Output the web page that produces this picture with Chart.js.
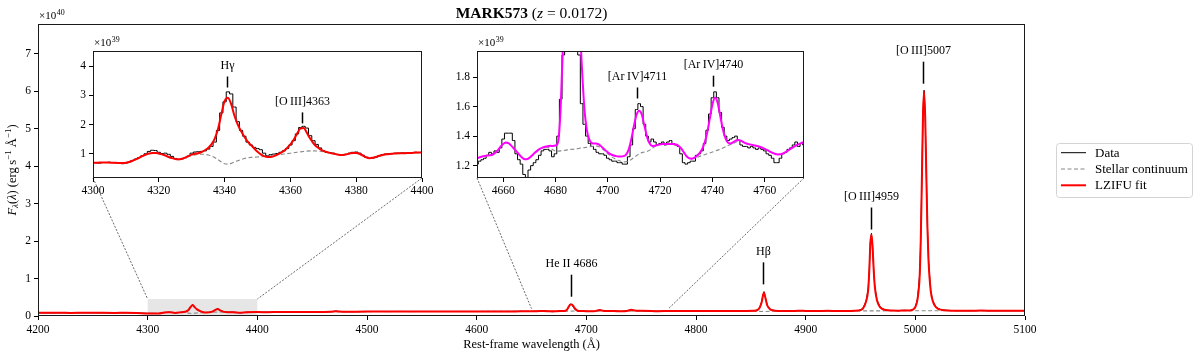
<!DOCTYPE html>
<html><head><meta charset="utf-8">
<script src="https://cdn.jsdelivr.net/npm/chart.js@4.4.1/dist/chart.umd.min.js"></script>
<style>
html,body{margin:0;padding:0;background:#fff;}
#wrap{position:relative;width:1200px;height:359px;overflow:hidden;background:#fff;}
canvas{position:absolute;}
</style></head><body>
<div id="wrap">
<canvas id="main" width="1200" height="359" style="left:0;top:0;width:1200px;height:359px"></canvas>
<canvas id="in1" width="378" height="159" style="left:60px;top:36px;width:378px;height:159px"></canvas>
<canvas id="in2" width="380" height="159" style="left:440px;top:36px;width:380px;height:159px"></canvas>
</div>
<script>
const FONT = "'Liberation Serif', 'DejaVu Serif', serif";

// ---------- ticks ----------
const mainXTicks = [4200,4300,4400,4500,4600,4700,4800,4900,5000,5100];
const mainYTicks = [0,1,2,3,4,5,6,7];
const in1XTicks = [4300,4320,4340,4360,4380,4400];
const in1YTicks = [1,2,3,4];
const in2XTicks = [4660,4680,4700,4720,4740,4760];
const in2YTicks = [1.2,1.4,1.6,1.8];

// ---------- line labels ----------
const mainAnnLabels = ['He II 4686','H\u03b2','[O\u2009III]4959','[O\u2009III]5007'];
const mainAnnWave = [4686,4861.4,4959.5,5007.3];
const mainAnnFlux = [0.515,0.845,2.31,6.205];
const in1AnnLabels = ['H\u03b3','[O\u2009III]4363'];
const in1AnnWave = [4340.7,4363.4];
const in1AnnFlux = [3.27,2.04];
const in2AnnLabels = ['[Ar\u2009IV]4711','[Ar\u2009IV]4740'];
const in2AnnWave = [4711.1,4740.2];
const in2AnnFlux = [1.655,1.735];

// ---------- main spectrum (1e40 erg/s/A) ----------
const mainWave = [
4200,4210,4220,4230,4240,4250,4260,4270,4280,4290,
4300,4305,4310,4315,4320,4325,4330,4334,4337,4339,
4341,4343,4345,4348,4352,4356,4360,4362,4364,4366,
4369,4373,4378,4384,4390,4400,4410,4420,4430,4440,
4450,4460,4466,4470,4472,4475,4480,4490,4500,4510,
4520,4530,4540,4550,4560,4570,4580,4590,4600,4610,
4620,4630,4640,4650,4655,4661,4669,4676,4680,4682,
4683,4684,4685,4686,4687,4688,4689,4690,4692,4695,
4700,4707,4710,4712,4714,4718,4725,4732,4738,4741,
4744,4750,4760,4766,4775,4785,4795,4805,4815,4825,
4835,4845,4852,4856,4858,4860,4861,4862,4863,4865,
4868,4872,4880,4890,4896,4900,4910,4920,4930,4940,
4948,4952,4955,4957,4958,4959,4960,4961,4962,4963,
4965,4968,4972,4978,4985,4990,4995,4998,5000,5002,
5004,5005,5006,5007,5008,5009,5010,5011,5012,5014,
5016,5019,5023,5030,5040,5050,5060,5070,5080,5090,
5100];
const mainFit = [
.085,.084,.086,.082,.085,.086,.084,.083,.085,.081,
.070,.070,.068,.092,.101,.082,.097,.112,.152,.235,
.292,.230,.178,.130,.092,.097,.132,.168,.188,.152,
.116,.101,.101,.085,.099,.104,.103,.106,.104,.107,
.108,.110,.112,.122,.128,.119,.114,.116,.118,.120,
.119,.121,.119,.120,.121,.120,.122,.121,.122,.121,
.123,.122,.124,.125,.128,.136,.124,.132,.134,.160,
.200,.250,.295,.310,.305,.270,.225,.190,.142,.135,
.129,.126,.145,.157,.147,.133,.135,.125,.142,.166,
.144,.137,.131,.128,.135,.132,.131,.132,.133,.132,
.133,.134,.138,.160,.220,.380,.540,.630,.520,.280,
.170,.143,.136,.135,.142,.136,.135,.137,.134,.136,
.145,.190,.380,.700,1.200,1.950,2.180,1.850,1.250,.800,
.420,.230,.165,.145,.142,.150,.148,.175,.240,.450,
1.100,2.100,3.700,5.400,6.000,5.300,3.800,2.400,1.500,.680,
.390,.230,.170,.148,.142,.140,.144,.140,.139,.141,
.140];
const mainData = [
.086,.083,.087,.081,.086,.085,.085,.082,.086,.080,
.070,.071,.067,.094,.105,.082,.100,.113,.148,.250,
.310,.240,.178,.128,.095,.099,.130,.170,.193,.155,
.118,.102,.104,.086,.099,.105,.102,.107,.103,.108,
.107,.111,.111,.124,.130,.118,.115,.115,.119,.121,
.118,.122,.118,.121,.120,.121,.121,.122,.121,.122,
.122,.123,.125,.121,.129,.141,.113,.131,.128,.165,
.190,.250,.310,.320,.300,.240,.200,.160,.140,.131,
.125,.122,.145,.162,.148,.135,.136,.123,.144,.170,
.146,.138,.131,.126,.134,.133,.130,.133,.132,.134,
.132,.133,.139,.162,.225,.390,.560,.650,.530,.285,
.172,.142,.137,.134,.143,.135,.136,.136,.135,.137,
.146,.195,.390,.720,1.230,1.990,2.210,1.870,1.260,.810,
.430,.235,.166,.146,.143,.152,.147,.177,.245,.460,
1.120,2.150,3.750,5.450,6.030,5.320,3.820,2.420,1.510,.690,
.395,.232,.171,.149,.141,.140,.145,.139,.140,.140,
.141];
const contWave = [4200,4250,4300,4310,4320,4326,4333,4340,4346,4352,4364,4375,4384,4400,4450,4500,4550,4600,4650,4680,4697,4705,4718,4732,4748,4775,4800,4840,4855,4862,4870,4900,4950,4990,5020,5060,5100];
const mainCont = [.084,.085,.069,.068,.100,.081,.098,.065,.084,.090,.108,.096,.085,.104,.108,.118,.120,.122,.125,.130,.133,.123,.134,.125,.136,.134,.132,.133,.128,.118,.129,.135,.136,.140,.140,.142,.140];

// ---------- inset 1 (1e39 erg/s/A) ----------
const in1Wave = [
4300,4301,4302,4303,4304,4305,4306,4307,4308,4309,
4310,4311,4312,4313,4314,4315,4316,4317,4318,4319,
4320,4321,4322,4323,4324,4325,4326,4327,4328,4329,
4330,4331,4332,4333,4334,4335,4336,4337,4338,4339,
4340,4341,4342,4343,4344,4345,4346,4347,4348,4349,
4350,4351,4352,4353,4354,4355,4356,4357,4358,4359,
4360,4361,4362,4363,4364,4365,4366,4367,4368,4369,
4370,4371,4372,4373,4374,4375,4376,4377,4378,4379,
4380,4381,4382,4383,4384,4385,4386,4387,4388,4389,
4390,4391,4392,4393,4394,4395,4396,4397,4398,4399,
4400];
const in1Data = [
.70,.69,.68,.70,.70,.71,.70,.69,.67,.66,
.68,.72,.77,.82,.87,.93,1.00,1.08,1.12,1.11,
1.05,1.01,1.02,.98,.91,.84,.80,.82,.86,.92,
1.02,1.06,1.07,1.08,1.10,1.16,1.25,1.40,1.80,2.40,
2.78,3.12,3.05,2.60,2.10,1.80,1.60,1.40,1.30,1.22,
1.18,1.14,1.02,.93,.97,.99,1.01,1.05,1.10,1.18,
1.30,1.45,1.68,1.90,1.94,1.88,1.62,1.45,1.32,1.20,
1.10,1.05,1.04,1.02,.98,.97,.96,.98,1.02,1.05,
1.06,1.02,.95,.88,.84,.85,.88,.93,.97,.99,
1.00,1.01,1.02,1.02,1.03,1.03,1.03,1.04,1.05,1.04,
1.05];
const in1Fit = [
.69,.69,.70,.70,.70,.70,.69,.69,.68,.68,
.69,.72,.76,.81,.86,.92,.97,1.01,1.03,1.03,
1.01,.98,.94,.89,.85,.82,.81,.83,.87,.92,
.97,1.00,1.02,1.06,1.12,1.20,1.32,1.52,1.85,2.35,
2.80,2.92,2.70,2.30,2.00,1.78,1.58,1.42,1.30,1.18,
1.07,.98,.92,.89,.89,.92,.97,1.03,1.10,1.20,
1.32,1.48,1.68,1.86,1.88,1.72,1.52,1.36,1.24,1.16,
1.10,1.06,1.03,1.01,.98,.96,.96,.98,1.01,1.03,
1.03,1.00,.94,.88,.85,.86,.89,.93,.96,.98,
.99,1.00,1.01,1.02,1.02,1.02,1.03,1.03,1.04,1.04,
1.04];
const in1Cont = [
.69,.695,.70,.70,.70,.695,.69,.685,.68,.675,
.68,.71,.75,.80,.85,.91,.96,1.00,1.02,1.02,
1.00,.97,.93,.89,.85,.82,.81,.83,.86,.90,
.94,.96,.98,.985,.98,.96,.93,.87,.80,.72,
.66,.645,.67,.72,.76,.80,.84,.86,.875,.885,
.89,.895,.905,.915,.93,.945,.96,.975,.99,1.005,
1.02,1.035,1.05,1.065,1.08,1.09,1.10,1.10,1.095,1.085,
1.07,1.05,1.03,1.005,.98,.96,.955,.97,.99,1.01,
1.02,.99,.93,.88,.85,.86,.88,.92,.95,.97,
.98,.99,1.00,1.005,1.01,1.015,1.02,1.025,1.03,1.035,
1.04];

// ---------- inset 2 (1e39 erg/s/A) ----------
const in2Wave = [
4650,4651,4652,4653,4654,4655,4656,4657,4658,4659,
4660,4661,4662,4663,4664,4665,4666,4667,4668,4669,
4670,4671,4672,4673,4674,4675,4676,4677,4678,4679,
4680,4681,4682,4683,4684,4685,4686,4687,4688,4689,
4690,4691,4692,4693,4694,4695,4696,4697,4698,4699,
4700,4701,4702,4703,4704,4705,4706,4707,4708,4709,
4710,4711,4712,4713,4714,4715,4716,4717,4718,4719,
4720,4721,4722,4723,4724,4725,4726,4727,4728,4729,
4730,4731,4732,4733,4734,4735,4736,4737,4738,4739,
4740,4741,4742,4743,4744,4745,4746,4747,4748,4749,
4750,4751,4752,4753,4754,4755,4756,4757,4758,4759,
4760,4761,4762,4763,4764,4765,4766,4767,4768,4769,
4770,4771,4772,4773,4774,4775];
const in2Data = [
1.21,1.23,1.24,1.25,1.27,1.29,1.28,1.30,1.29,1.32,
1.38,1.42,1.42,1.42,1.37,1.28,1.24,1.21,1.14,1.12,
1.17,1.20,1.22,1.24,1.27,1.30,1.31,1.31,1.30,1.26,
1.28,1.40,1.65,1.95,2.50,3.10,3.20,3.00,2.40,1.95,
1.62,1.48,1.40,1.35,1.33,1.31,1.29,1.28,1.28,1.27,
1.25,1.24,1.23,1.23,1.22,1.22,1.21,1.21,1.26,1.34,
1.45,1.58,1.62,1.60,1.48,1.40,1.36,1.38,1.36,1.34,
1.35,1.36,1.34,1.36,1.37,1.35,1.34,1.33,1.28,1.22,
1.21,1.22,1.23,1.23,1.27,1.28,1.30,1.35,1.44,1.55,
1.66,1.70,1.66,1.56,1.46,1.40,1.37,1.38,1.39,1.40,
1.37,1.34,1.33,1.33,1.32,1.33,1.32,1.31,1.32,1.31,
1.30,1.28,1.27,1.25,1.22,1.22,1.25,1.28,1.29,1.31,
1.32,1.34,1.36,1.33,1.35,1.34];
const in2Fit = [
1.250,1.256,1.262,1.266,1.268,1.270,1.275,1.288,1.305,1.328,
1.347,1.356,1.352,1.337,1.318,1.298,1.278,1.258,1.245,1.243,
1.252,1.268,1.285,1.300,1.313,1.322,1.328,1.332,1.334,1.333,
1.336,1.360,1.600,2.100,2.600,3.000,3.100,3.000,2.700,2.250,
1.900,1.600,1.440,1.375,1.352,1.350,1.348,1.338,1.322,1.305,
1.290,1.278,1.270,1.265,1.262,1.262,1.264,1.275,1.310,1.380,
1.470,1.545,1.572,1.545,1.470,1.395,1.350,1.333,1.334,1.340,
1.344,1.346,1.347,1.347,1.347,1.346,1.343,1.335,1.318,1.292,
1.266,1.250,1.246,1.252,1.265,1.283,1.310,1.355,1.425,1.520,
1.615,1.662,1.625,1.535,1.445,1.385,1.355,1.350,1.360,1.370,
1.373,1.368,1.358,1.350,1.345,1.341,1.337,1.333,1.328,1.322,
1.314,1.305,1.295,1.286,1.279,1.276,1.277,1.283,1.292,1.303,
1.315,1.326,1.337,1.346,1.353,1.360];
const in2Cont = [
1.250,1.256,1.262,1.266,1.268,1.270,1.275,1.288,1.305,1.328,
1.347,1.356,1.352,1.337,1.318,1.298,1.278,1.258,1.245,1.243,
1.252,1.268,1.285,1.300,1.312,1.320,1.324,1.324,1.318,1.308,
1.296,1.298,1.300,1.302,1.305,1.307,1.310,1.312,1.315,1.317,
1.320,1.322,1.325,1.328,1.330,1.332,1.332,1.326,1.312,1.296,
1.280,1.266,1.254,1.244,1.236,1.229,1.225,1.226,1.232,1.242,
1.255,1.268,1.280,1.288,1.292,1.296,1.305,1.318,1.330,1.338,
1.342,1.344,1.345,1.345,1.345,1.344,1.341,1.333,1.316,1.290,
1.265,1.250,1.246,1.250,1.256,1.262,1.268,1.274,1.280,1.286,
1.292,1.298,1.305,1.312,1.320,1.328,1.336,1.343,1.350,1.360,
1.368,1.366,1.357,1.349,1.344,1.340,1.336,1.332,1.327,1.321,
1.313,1.304,1.294,1.285,1.278,1.275,1.276,1.282,1.291,1.302,
1.314,1.325,1.336,1.345,1.352,1.359];

// axis ranges
const mainRange = {xmin:4200, xmax:5100, ymin:0, ymax:7.8};
const in1Range = {xmin:4300, xmax:4400, ymin:0.17, ymax:4.52};
const in2Range = {xmin:4650, xmax:4775, ymin:1.116, ymax:1.977};

// ---------- helpers ----------
const pts = (w, v) => w.map((x, i) => ({x: x, y: v[i]}));

function drawFrame(chart){
  const {ctx, chartArea:a} = chart;
  ctx.save();
  ctx.strokeStyle = '#1a1a1a'; ctx.lineWidth = 1;
  const l = Math.round(a.left)+0.5, t = Math.round(a.top)+0.5, r = Math.round(a.right)-0.5, b = Math.round(a.bottom)-0.5;
  ctx.strokeRect(l, t, r-l, b-t);
  ctx.restore();
}
function drawAnnots(chart, labels, xs, ys, tickLen, gap, size){
  const ctx = chart.ctx, xS = chart.scales.x, yS = chart.scales.y;
  ctx.save();
  ctx.strokeStyle = '#000'; ctx.lineWidth = 1.5; ctx.fillStyle = '#000';
  ctx.font = size + 'px ' + FONT; ctx.textAlign = 'center'; ctx.textBaseline = 'middle';
  labels.forEach((t, i) => {
    const px = Math.round(xS.getPixelForValue(xs[i])) + 0.5, py = yS.getPixelForValue(ys[i]);
    ctx.beginPath(); ctx.moveTo(px, py); ctx.lineTo(px, py - tickLen); ctx.stroke();
    ctx.fillText(t, px, py - tickLen - gap);
  });
  ctx.restore();
}
function drawSci(ctx, x, y, base, exp, size){
  ctx.save();
  ctx.fillStyle = '#000'; ctx.textAlign = 'left'; ctx.textBaseline = 'middle';
  ctx.font = size + 'px ' + FONT;
  ctx.fillText(base, x, y);
  const w = ctx.measureText(base).width;
  ctx.font = (size*0.72) + 'px ' + FONT;
  ctx.fillText(exp, x + w + 0.5, y - size*0.33);
  ctx.restore();
}
function drawParts(ctx, parts, cx, cy){
  let total = 0;
  parts.forEach(p => { ctx.font = p.f; p.w = ctx.measureText(p.t).width; total += p.w; });
  let x = cx - total/2;
  ctx.textAlign = 'left'; ctx.textBaseline = 'middle'; ctx.fillStyle = '#000';
  parts.forEach(p => { ctx.font = p.f; ctx.fillText(p.t, x, cy + (p.dy||0)); x += p.w; });
}

// ---------- inset factory ----------
function insetPlugin(cfg){
  return {
    id: 'insetDeco',
    beforeDraw(chart){
      const {ctx, chartArea:a} = chart;
      ctx.save(); ctx.fillStyle = '#fff'; ctx.fillRect(a.left, a.top, a.right-a.left, a.bottom-a.top); ctx.restore();
    },
    afterDraw(chart){
      drawFrame(chart);
      drawAnnots(chart, cfg.annLabels, cfg.annWave, cfg.annFlux, 11, 10.5, 12);
      drawSci(chart.ctx, chart.chartArea.left + 1, chart.chartArea.top - 7.5, '\u00d710', '39', 11);
    }
  };
}
function makeInset(id, cfg){
  return new Chart(document.getElementById(id), {
    type: 'line',
    data: {datasets: [
      {label:'Data', data: pts(cfg.wave, cfg.data), borderColor:'#000', borderWidth:1, pointRadius:0, stepped:'middle', order:2},
      {label:'Stellar continuum', data: pts(cfg.wave, cfg.cont), borderColor:'#888', borderWidth:1.1, borderDash:[4,2.5], pointRadius:0, order:1},
      {label:'LZIFU fit', data: pts(cfg.wave, cfg.fit), borderColor: cfg.color, borderWidth:2, pointRadius:0, cubicInterpolationMode:'monotone', order:0}
    ]},
    options: {
      animation:false, responsive:false, devicePixelRatio:1, events:[],
      layout: {padding: {left:0, top:15, right:cfg.padRight, bottom:0}},
      plugins: {legend:{display:false}, tooltip:{enabled:false}},
      scales: {
        x: {type:'linear', min:cfg.range.xmin, max:cfg.range.xmax,
            afterBuildTicks: s => { s.ticks = cfg.xticks.map(v => ({value:v})); },
            afterFit: s => { s.height = 17; },
            grid: {drawOnChartArea:false, drawTicks:true, tickLength:4, color:'#000', lineWidth:1},
            border: {display:false},
            ticks: {autoSkip:false, maxRotation:0, padding:2, color:'#000', font:{family:FONT, size:11.5}, callback: v => String(v)}},
        y: {type:'linear', min:cfg.range.ymin, max:cfg.range.ymax,
            afterBuildTicks: s => { s.ticks = cfg.yticks.map(v => ({value:v})); },
            afterFit: s => { s.width = cfg.yw; },
            grid: {drawOnChartArea:false, drawTicks:true, tickLength:4, color:'#000', lineWidth:1},
            border: {display:false},
            ticks: {autoSkip:false, padding:3, color:'#000', font:{family:FONT, size:11.5}, callback: cfg.yfmt}}
      }
    },
    plugins: [insetPlugin(cfg)]
  });
}

const IN1_OFF = {x:60, y:36}, IN2_OFF = {x:440, y:36};
const inset1 = makeInset('in1', {wave:in1Wave, data:in1Data, cont:in1Cont, fit:in1Fit, color:'#ff0000', range:in1Range,
  xticks:in1XTicks, yticks:in1YTicks, yw:33, padRight:16, yfmt: v => String(v),
  annLabels:in1AnnLabels, annWave:in1AnnWave, annFlux:in1AnnFlux});
const inset2 = makeInset('in2', {wave:in2Wave, data:in2Data, cont:in2Cont, fit:in2Fit, color:'#ff00ff', range:in2Range,
  xticks:in2XTicks, yticks:in2YTicks, yw:37, padRight:16, yfmt: v => v.toFixed(1),
  annLabels:in2AnnLabels, annWave:in2AnnWave, annFlux:in2AnnFlux});

// ---------- main ----------
const mainPlugin = {
  id: 'mainDeco',
  beforeDatasetsDraw(chart){
    const {ctx, scales:{x, y}} = chart;
    const x0 = x.getPixelForValue(in1Range.xmin), x1 = x.getPixelForValue(in1Range.xmax);
    const y0 = y.getPixelForValue(in1Range.ymin/10), y1 = y.getPixelForValue(in1Range.ymax/10);
    ctx.save(); ctx.fillStyle = '#e6e6e6'; ctx.fillRect(x0, y1, x1-x0, y0-y1); ctx.restore();
  },
  afterDraw(chart){
    const {ctx, scales:{x, y}, chartArea:a} = chart;
    drawFrame(chart);
    drawAnnots(chart, mainAnnLabels, mainAnnWave, mainAnnFlux, 22, 10.5, 12);
    drawSci(ctx, 39, 16.5, '\u00d710', '40', 11);
    // title
    ctx.save();
    drawParts(ctx, [
      {t:'MARK573', f:'bold 15.5px '+FONT},
      {t:' (', f:'15.5px '+FONT},
      {t:'z', f:'italic 15.5px '+FONT},
      {t:' = 0.0172)', f:'15.5px '+FONT}
    ], (a.left + a.right)/2, 14);
    ctx.restore();
    // y label
    ctx.save();
    ctx.translate(13, 170); ctx.rotate(-Math.PI/2);
    drawParts(ctx, [
      {t:'F', f:'italic 12.5px '+FONT},
      {t:'\u03bb', f:'italic 9px '+FONT, dy:3},
      {t:'(', f:'12.5px '+FONT},
      {t:'\u03bb', f:'italic 12.5px '+FONT},
      {t:') (erg\u2009s', f:'12.5px '+FONT},
      {t:'\u22121', f:'9px '+FONT, dy:-4.5},
      {t:' \u00c5', f:'12.5px '+FONT},
      {t:'\u22121', f:'9px '+FONT, dy:-4.5},
      {t:')', f:'12.5px '+FONT}
    ], 0, 0);
    ctx.restore();
    // connector lines
    ctx.save();
    ctx.strokeStyle = '#444'; ctx.lineWidth = 0.8; ctx.setLineDash([2,1.5]);
    const links = [
      [inset1, IN1_OFF, in1Range],
      [inset2, IN2_OFF, in2Range]
    ];
    links.forEach(([ch, off, rg]) => {
      const ca = ch.chartArea;
      const yTop = y.getPixelForValue(rg.ymax/10);
      ctx.beginPath();
      ctx.moveTo(off.x + ca.left, off.y + ca.bottom); ctx.lineTo(x.getPixelForValue(rg.xmin), yTop);
      ctx.moveTo(off.x + ca.right, off.y + ca.bottom); ctx.lineTo(x.getPixelForValue(rg.xmax), yTop);
      ctx.stroke();
    });
    ctx.restore();
    // legend
    ctx.save();
    const lx = 1056.5, ly = 143.5, lw = 136, lh = 54, r = 3;
    ctx.beginPath();
    ctx.moveTo(lx+r, ly); ctx.lineTo(lx+lw-r, ly); ctx.quadraticCurveTo(lx+lw, ly, lx+lw, ly+r);
    ctx.lineTo(lx+lw, ly+lh-r); ctx.quadraticCurveTo(lx+lw, ly+lh, lx+lw-r, ly+lh);
    ctx.lineTo(lx+r, ly+lh); ctx.quadraticCurveTo(lx, ly+lh, lx, ly+lh-r);
    ctx.lineTo(lx, ly+r); ctx.quadraticCurveTo(lx, ly, lx+r, ly); ctx.closePath();
    ctx.fillStyle = '#fff'; ctx.fill(); ctx.strokeStyle = '#d4d4d4'; ctx.lineWidth = 1; ctx.stroke();
    const rows = [152.7, 169, 185.3];
    chart.data.datasets.forEach((ds, i) => {
      ctx.beginPath(); ctx.setLineDash(ds.borderDash || []);
      ctx.strokeStyle = ds.borderColor; ctx.lineWidth = ds.borderWidth;
      ctx.moveTo(1061, rows[i]); ctx.lineTo(1086, rows[i]); ctx.stroke();
      ctx.setLineDash([]);
      ctx.fillStyle = '#000'; ctx.font = '13px ' + FONT; ctx.textAlign = 'left'; ctx.textBaseline = 'middle';
      ctx.fillText(ds.label, 1095, rows[i] + 0.5);
    });
    ctx.restore();
  }
};

new Chart(document.getElementById('main'), {
  type: 'line',
  data: {datasets: [
    {label:'Data', data: pts(mainWave, mainData), borderColor:'#000', borderWidth:1, pointRadius:0, order:2},
    {label:'Stellar continuum', data: pts(contWave, mainCont), borderColor:'#888', borderWidth:1.1, borderDash:[4,2.5], pointRadius:0, order:1},
    {label:'LZIFU fit', data: pts(mainWave, mainFit), borderColor:'#ff0000', borderWidth:2, pointRadius:0, cubicInterpolationMode:'monotone', order:0}
  ]},
  options: {
    animation:false, responsive:false, devicePixelRatio:1, events:[],
    layout: {padding: {left:0, top:24, right:175, bottom:7}},
    plugins: {legend:{display:false}, tooltip:{enabled:false}},
    scales: {
      x: {type:'linear', min:mainRange.xmin, max:mainRange.xmax,
          afterBuildTicks: s => { s.ticks = mainXTicks.map(v => ({value:v})); },
          afterFit: s => { s.height = 36; },
          grid: {drawOnChartArea:false, drawTicks:true, tickLength:4, color:'#000', lineWidth:1},
          border: {display:false},
          ticks: {autoSkip:false, maxRotation:0, padding:3, color:'#000', font:{family:FONT, size:11.5}, callback: v => String(v)},
          title: {display:true, text:'Rest-frame wavelength (\u00c5)', color:'#000', font:{family:FONT, size:12.5}, padding:{top:0, bottom:0}}},
      y: {type:'linear', min:mainRange.ymin, max:mainRange.ymax,
          afterBuildTicks: s => { s.ticks = mainYTicks.map(v => ({value:v})); },
          afterFit: s => { s.width = 38; },
          grid: {drawOnChartArea:false, drawTicks:true, tickLength:4, color:'#000', lineWidth:1},
          border: {display:false},
          ticks: {autoSkip:false, padding:3, color:'#000', font:{family:FONT, size:11.5}, callback: v => String(v)}}
    }
  },
  plugins: [mainPlugin]
});
</script>
</body></html>
